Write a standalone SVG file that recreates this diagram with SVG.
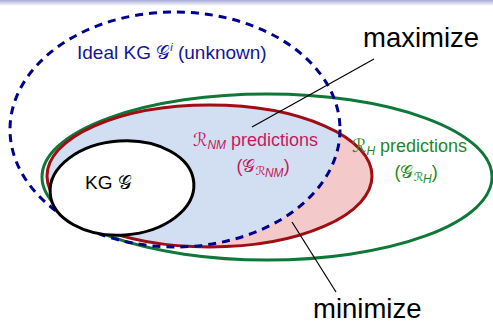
<svg xmlns="http://www.w3.org/2000/svg" width="493" height="324" viewBox="0 0 493 324">
<style>
text{font-family:"Liberation Sans",Arial,sans-serif}
.cal{font-family:"DejaVu Serif","DejaVu Sans",serif}
.ideal{fill:#14149e;font-size:19px}
.nm{fill:#c8185c;font-size:18px}
.h{fill:#1c8a24;font-size:18px}
.kg{fill:#000;font-size:19px}
.big{fill:#000;font-size:27.5px}
.sub{font-size:12px;font-style:italic}
.lead{stroke:#000;stroke-width:1.2;fill:none}
</style>
<defs>
<linearGradient id="topbar" x1="0" y1="0" x2="0" y2="1">
<stop offset="0" stop-color="#a9a9d9"/>
<stop offset="1" stop-color="#ffffff"/>
</linearGradient>
<clipPath id="idealClip"><ellipse cx="175" cy="129.5" rx="165" ry="117.5"/></clipPath>
</defs>
<rect x="0" y="0" width="493" height="324" fill="#fff"/>
<rect x="0" y="0" width="493" height="6" fill="url(#topbar)"/>

<g id="rh">
<ellipse cx="267" cy="177" rx="225" ry="83" fill="none" stroke="#0f7838" stroke-width="3"/>
</g>
<g id="rnm">
<ellipse cx="209.5" cy="176" rx="162.5" ry="71" fill="#f4c9c9"/>
<ellipse cx="209.5" cy="176" rx="162.5" ry="71" fill="#d2dff2" clip-path="url(#idealClip)"/>
<ellipse cx="209.5" cy="176" rx="162.5" ry="71" fill="none" stroke="#a00d12" stroke-width="3"/>
</g>
<g id="ideal">
<ellipse cx="175" cy="129.5" rx="165" ry="117.5" fill="none" stroke="#00008f" stroke-width="3" stroke-dasharray="8,6"/>
</g>
<g id="kg">
<ellipse cx="122" cy="188" rx="72" ry="47" transform="rotate(-4 122 188)" fill="#fff" stroke="#000" stroke-width="3"/>
<text class="kg" x="85" y="189">KG <tspan class="cal">𝒢</tspan></text>
</g>

<g id="connectors">
<line class="lead" x1="374" y1="59" x2="252" y2="127"/>
<line class="lead" x1="292" y1="222" x2="336" y2="292"/>
</g>

<g id="labels">
<text class="ideal" x="77" y="59">Ideal KG <tspan class="cal">𝒢</tspan><tspan font-size="11" font-style="italic" dy="-8">i</tspan><tspan dy="8"> (unknown)</tspan></text>
<text class="nm" x="193" y="146"><tspan class="cal">ℛ</tspan><tspan class="sub" dy="3">NM</tspan><tspan dy="-3"> predictions</tspan></text>
<text class="nm" x="263" y="172" text-anchor="middle">(<tspan class="cal">𝒢</tspan><tspan class="cal" font-size="12" dy="3">ℛ</tspan><tspan class="sub" font-size="8" dy="2">NM</tspan><tspan dy="-5">)</tspan></text>
<text class="h" x="352" y="152"><tspan class="cal">ℛ</tspan><tspan class="sub" dy="3">H</tspan><tspan dy="-3"> predictions</tspan></text>
<text class="h" x="416" y="178" text-anchor="middle">(<tspan class="cal">𝒢</tspan><tspan class="cal" font-size="12" dy="3">ℛ</tspan><tspan class="sub" font-size="8" dy="2">H</tspan><tspan dy="-5">)</tspan></text>
<text class="big" x="363" y="47">maximize</text>
<text class="big" x="313" y="318">minimize</text>
</g>
</svg>
